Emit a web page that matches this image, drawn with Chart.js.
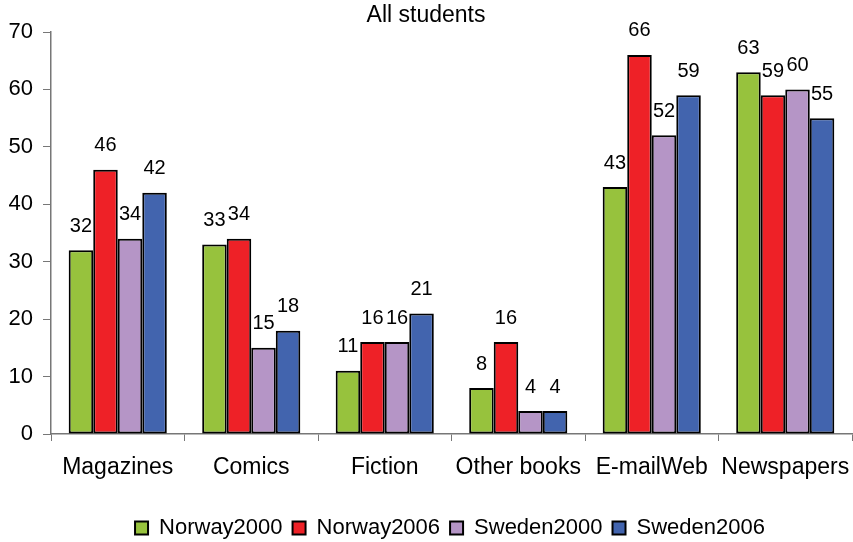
<!DOCTYPE html>
<html><head><meta charset="utf-8">
<script src="https://cdn.jsdelivr.net/npm/chart.js@4/dist/chart.umd.min.js"></script>
<style>html,body{margin:0;padding:0;background:#fff}#wrap{width:853px;height:542px}</style>
</head><body><div id="wrap"><canvas id="c" width="853" height="542"></canvas></div>
<script>
const categories = ["Magazines","Comics","Fiction","Other books","E-mailWeb","Newspapers"];
const norway2000 = [32,33,11,8,43,63];
const norway2006 = [46,34,16,16,66,59];
const sweden2000 = [34,15,16,4,52,60];
const sweden2006 = [42,18,21,4,59,55];
const yTicks = [0,10,20,30,40,50,60,70];

const FONT = "'Liberation Sans', Arial, sans-serif";

const labelPlugin = {
  id: 'valLabels',
  afterLayout(chart) {
    // shift legend slightly right as in the reference
    if (chart.legend) { chart.legend.left += 24; chart.legend.right += 24; }
  },
  afterDatasetsDraw(chart) {
    const ctx = chart.ctx;
    ctx.save();
    ctx.font = "20px " + FONT;
    ctx.fillStyle = "#000";
    ctx.textAlign = "center";
    ctx.textBaseline = "middle";
    chart.data.datasets.forEach((ds, i) => {
      chart.getDatasetMeta(i).data.forEach((bar, j) => {
        ctx.fillText(String(ds.data[j]), bar.x, bar.y - 24);
      });
    });
    ctx.restore();
  }
};

new Chart(document.getElementById('c'), {
  type: 'bar',
  data: {
    labels: categories,
    datasets: [
      {label: "Norway2000", data: norway2000, backgroundColor: "#97C23D"},
      {label: "Norway2006", data: norway2006, backgroundColor: "#EE2127"},
      {label: "Sweden2000", data: sweden2000, backgroundColor: "#B595C6"},
      {label: "Sweden2006", data: sweden2006, backgroundColor: "#4264AE"}
    ].map(d => Object.assign(d, {borderColor: "#000", borderWidth: 2, borderSkipped: false, categoryPercentage: 0.735, barPercentage: 1}))
  },
  options: {
    responsive: false,
    animation: false,
    devicePixelRatio: 1,
    layout: {padding: {left: 0, right: 1, top: 0, bottom: -7}},
    plugins: {
      title: {display: true, text: "All students", color: "#000", font: {family: FONT, size: 23, weight: 'normal'}, padding: {top: 2, bottom: 2.4}},
      legend: {position: 'bottom', labels: {color: "#000", font: {family: FONT, size: 22}, boxWidth: 13, boxHeight: 13, padding: 10}},
      tooltip: {enabled: false}
    },
    scales: {
      x: {
        grid: {display: true, drawOnChartArea: false, drawTicks: true, tickLength: 7, color: "#777", offset: true},
        border: {display: true, color: "#777", width: 1.5},
        ticks: {color: "#000", font: {family: FONT, size: 23}, padding: 13, maxRotation: 0, autoSkip: false},
        afterFit(s) { s.height = 73; s.paddingLeft = 0; s.paddingRight = 0; }
      },
      y: {
        min: 0, max: 70,
        afterBuildTicks(s) { s.ticks = yTicks.map(v => ({value: v})); },
        grid: {display: true, drawOnChartArea: false, drawTicks: true, tickLength: 8, color: "#777"},
        border: {display: true, color: "#777", width: 1.5},
        ticks: {color: "#000", font: {family: FONT, size: 22}, padding: 10},
        afterFit(s) { s.width = 51; }
      }
    }
  },
  plugins: [labelPlugin]
});
</script></body></html>
